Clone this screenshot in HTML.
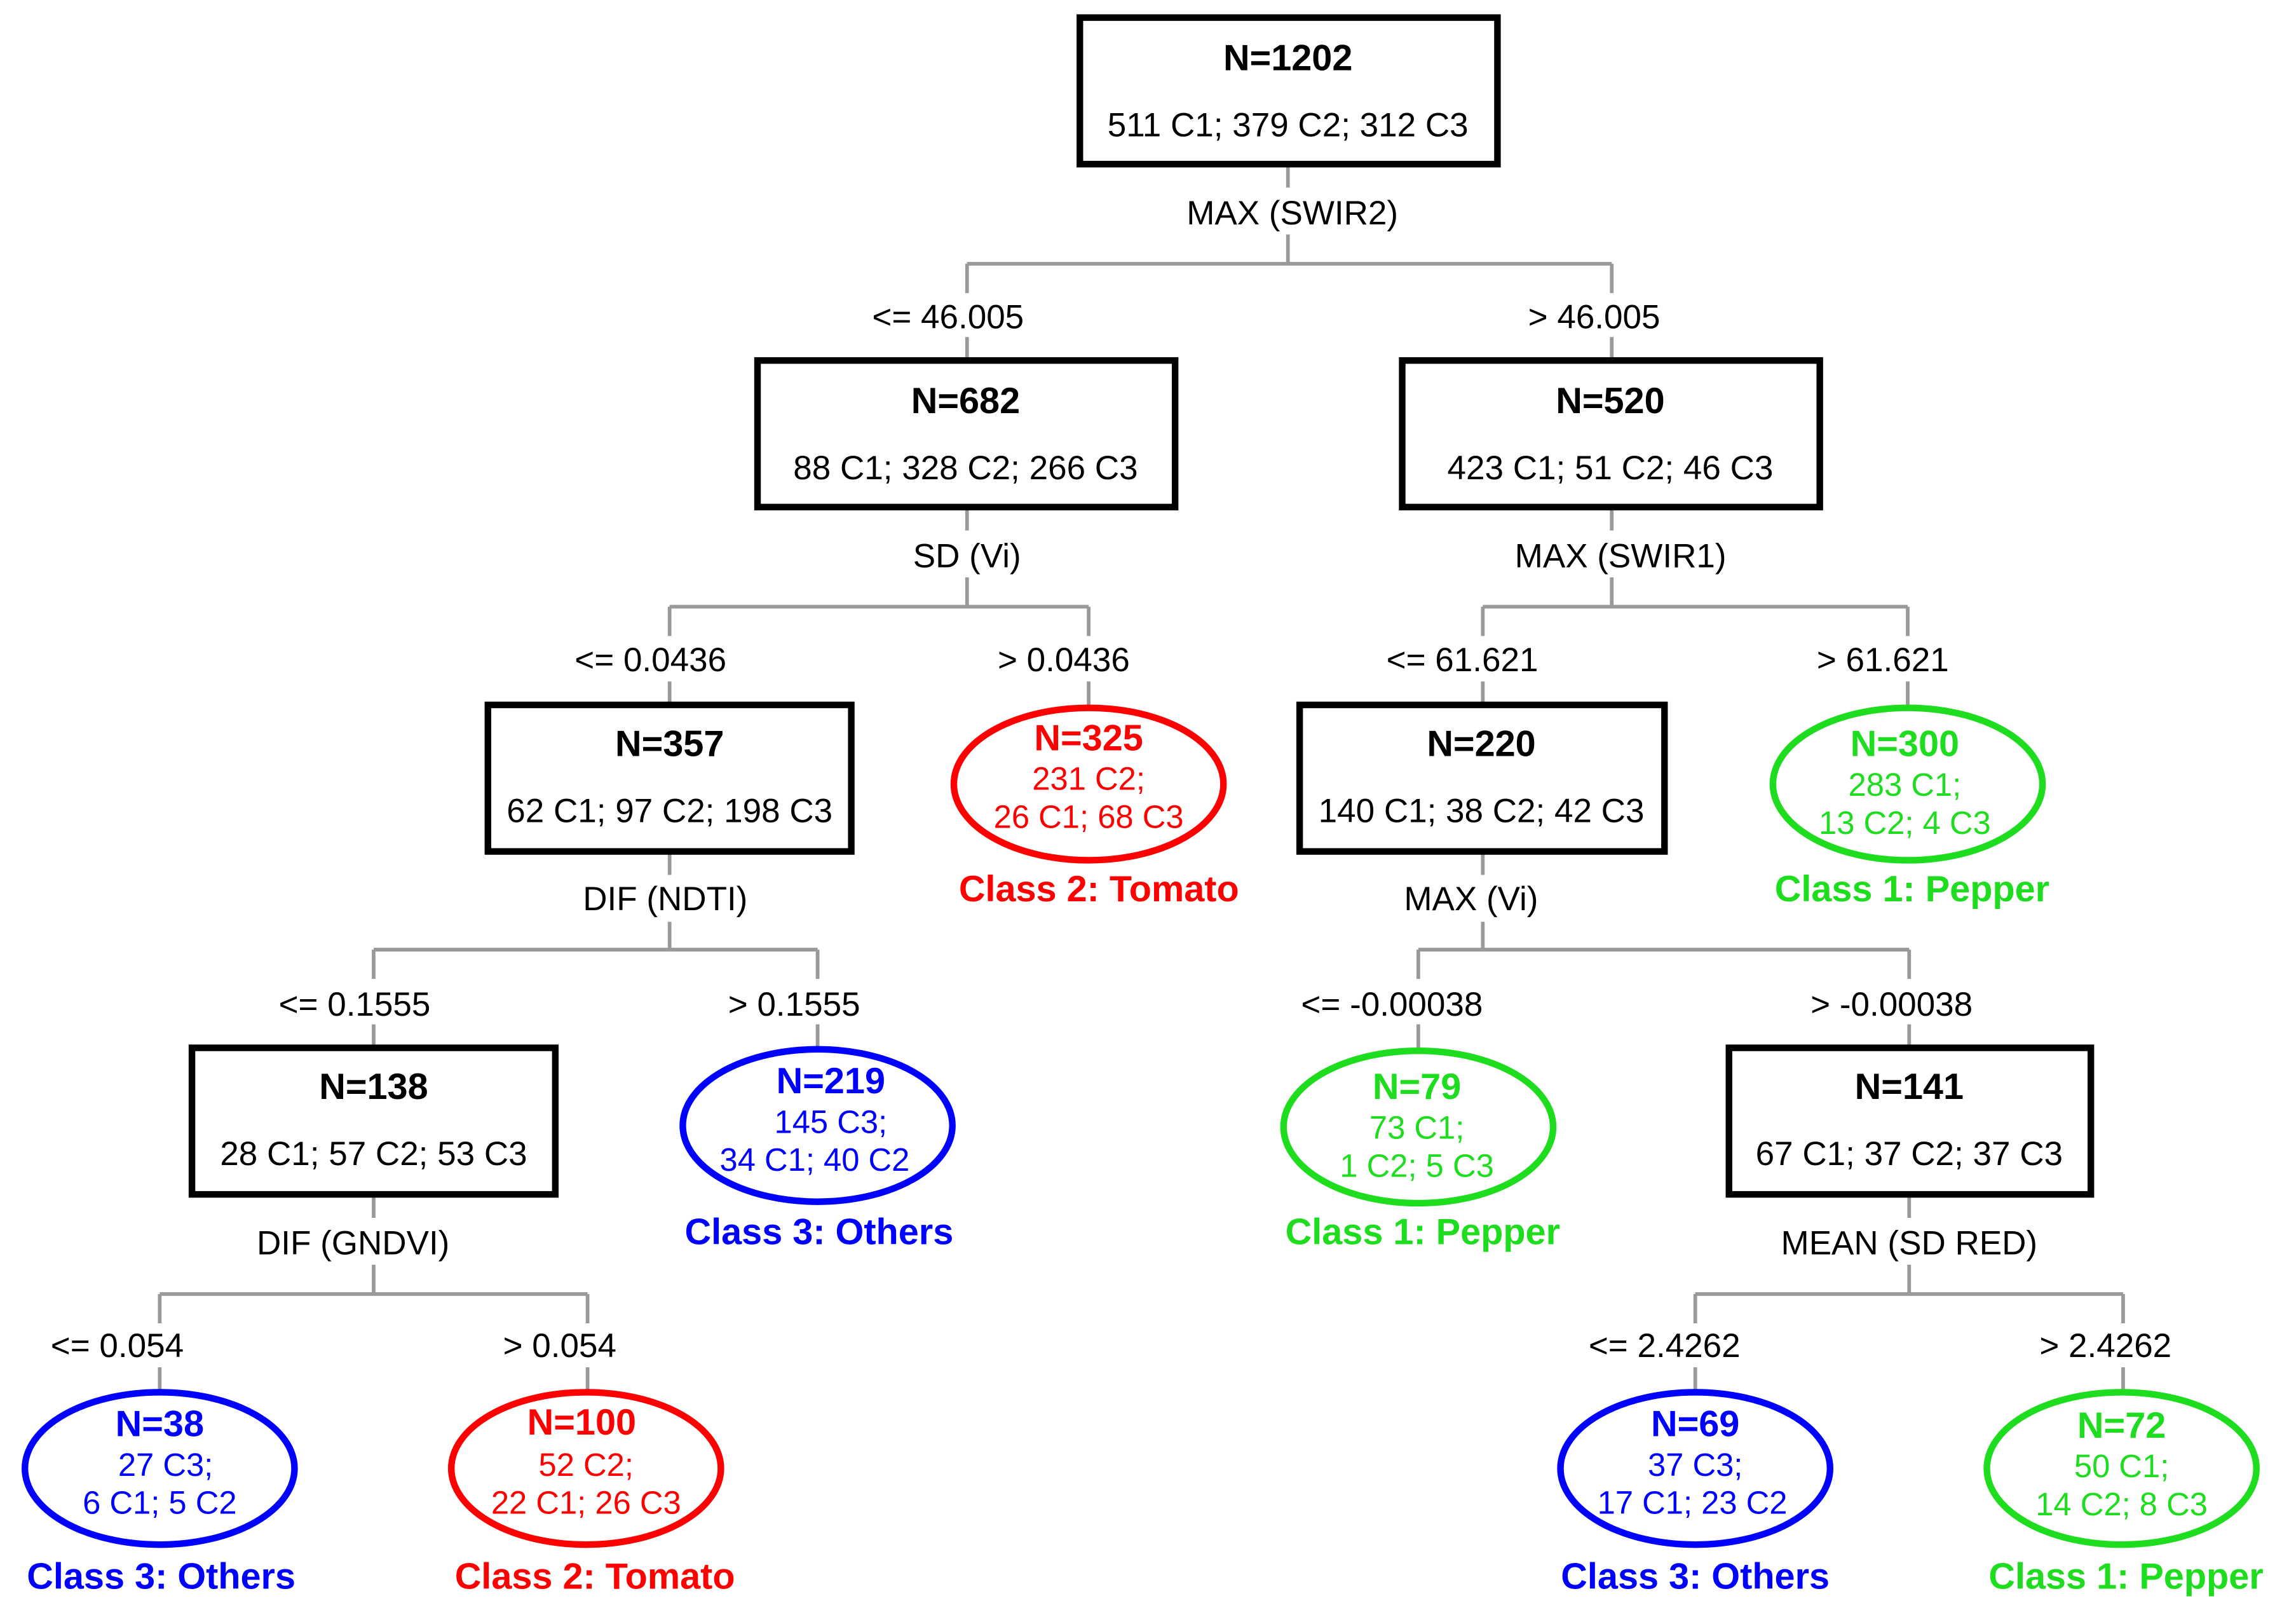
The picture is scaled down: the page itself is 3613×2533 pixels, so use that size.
<!DOCTYPE html>
<html><head><meta charset="utf-8"><style>
html,body{margin:0;padding:0;background:#fff;}
svg{display:block;}
text{font-family:"Liberation Sans",sans-serif;text-anchor:middle;}
.t{font-size:23px;fill:#000;}
.b{font-size:25px;font-weight:bold;}
.e{font-size:22px;}
.c{font-size:25px;font-weight:bold;}
.box{fill:#fff;stroke:#000;stroke-width:4.5;}
.ln{stroke:#999;stroke-width:2.5;fill:none;}
.R{fill:#ff0000;} .G{fill:#1edc1e;} .B{fill:#0000ff;}
.eR{fill:#fff;stroke:#ff0000;stroke-width:4.5;}
.eG{fill:#fff;stroke:#1edc1e;stroke-width:4.5;}
.eB{fill:#fff;stroke:#0000ff;stroke-width:4.5;}
</style></head><body>
<svg width="3613" height="2533" viewBox="0 0 1567 1098.6" preserveAspectRatio="none" xmlns="http://www.w3.org/2000/svg">
<!-- connectors -->
<path class="ln" d="M879 112V128 M879 160V180 M660 180H1100 M660 180V200 M1100 180V200 M660 230V246 M1100 230V246"/>
<path class="ln" d="M660 346V362 M660 394V414 M457 414H743 M457 414V434 M743 414V434 M457 465V481 M743 465V483"/>
<path class="ln" d="M1100 346V362 M1100 394V414 M1012 414H1302 M1012 414V434 M1302 414V434 M1012 465V481 M1302 465V483"/>
<path class="ln" d="M457 581V597 M457 629V648 M255 648H558 M255 648V668 M558 648V668 M255 699V715 M558 699V716"/>
<path class="ln" d="M1012 581V597 M1012 629V648 M968 648H1303 M968 648V668 M1303 648V668 M968 699V716 M1303 699V715"/>
<path class="ln" d="M255 815V831 M255 863V883 M109 883H401 M109 883V903 M401 883V903 M109 933V950 M401 933V950"/>
<path class="ln" d="M1303 815V831 M1303 863V883 M1157 883H1449 M1157 883V903 M1449 883V903 M1157 933V950 M1449 933V950"/>

<!-- connector labels -->
<text class="t" x="882" y="153">MAX (SWIR2)</text>
<text class="t" x="647" y="224">&lt;= 46.005</text>
<text class="t" x="1088" y="224">&gt; 46.005</text>
<text class="t" x="660" y="387">SD (Vi)</text>
<text class="t" x="1106" y="387">MAX (SWIR1)</text>
<text class="t" x="444" y="458">&lt;= 0.0436</text>
<text class="t" x="726" y="458">&gt; 0.0436</text>
<text class="t" x="998" y="458">&lt;= 61.621</text>
<text class="t" x="1285" y="458">&gt; 61.621</text>
<text class="t" x="454" y="621">DIF (NDTI)</text>
<text class="t" x="1004" y="621">MAX (Vi)</text>
<text class="t" x="242" y="693">&lt;= 0.1555</text>
<text class="t" x="542" y="693">&gt; 0.1555</text>
<text class="t" x="950" y="693">&lt;= -0.00038</text>
<text class="t" x="1291" y="693">&gt; -0.00038</text>
<text class="t" x="241" y="856">DIF (GNDVI)</text>
<text class="t" x="1303" y="856">MEAN (SD RED)</text>
<text class="t" x="80" y="926">&lt;= 0.054</text>
<text class="t" x="382" y="926">&gt; 0.054</text>
<text class="t" x="1136" y="926">&lt;= 2.4262</text>
<text class="t" x="1437" y="926">&gt; 2.4262</text>

<!-- boxes -->
<rect class="box" x="737" y="12" width="285" height="100"/>
<text class="b" x="879" y="48">N=1202</text>
<text class="t" x="879" y="93">511 C1; 379 C2; 312 C3</text>

<rect class="box" x="517" y="246" width="285" height="100"/>
<text class="b" x="659" y="282">N=682</text>
<text class="t" x="659" y="327">88 C1; 328 C2; 266 C3</text>

<rect class="box" x="957" y="246" width="285" height="100"/>
<text class="b" x="1099" y="282">N=520</text>
<text class="t" x="1099" y="327">423 C1; 51 C2; 46 C3</text>

<rect class="box" x="333" y="481" width="248" height="100"/>
<text class="b" x="457" y="516">N=357</text>
<text class="t" x="457" y="561">62 C1; 97 C2; 198 C3</text>

<rect class="box" x="887" y="481" width="249" height="100"/>
<text class="b" x="1011" y="516">N=220</text>
<text class="t" x="1011" y="561">140 C1; 38 C2; 42 C3</text>

<rect class="box" x="131" y="715" width="248" height="100"/>
<text class="b" x="255" y="750">N=138</text>
<text class="t" x="255" y="795">28 C1; 57 C2; 53 C3</text>

<rect class="box" x="1180" y="715" width="247" height="100"/>
<text class="b" x="1303" y="750">N=141</text>
<text class="t" x="1303" y="795">67 C1; 37 C2; 37 C3</text>

<!-- leaves -->
<ellipse class="eR" cx="743" cy="535" rx="92" ry="52"/>
<text class="b R" x="743" y="512">N=325</text>
<text class="e R" x="743" y="539">231 C2;</text>
<text class="e R" x="743" y="565">26 C1; 68 C3</text>
<text class="c R" x="750" y="615">Class 2: Tomato</text>

<ellipse class="eG" cx="1302" cy="535" rx="92" ry="52"/>
<text class="b G" x="1300" y="516">N=300</text>
<text class="e G" x="1300" y="543">283 C1;</text>
<text class="e G" x="1300" y="569">13 C2; 4 C3</text>
<text class="c G" x="1305" y="615">Class 1: Pepper</text>

<ellipse class="eB" cx="558" cy="768" rx="92" ry="52"/>
<text class="b B" x="567" y="746">N=219</text>
<text class="e B" x="567" y="773">145 C3;</text>
<text class="e B" x="556" y="799">34 C1; 40 C2</text>
<text class="c B" x="559" y="849">Class 3: Others</text>

<ellipse class="eG" cx="968" cy="769" rx="92" ry="52"/>
<text class="b G" x="967" y="750">N=79</text>
<text class="e G" x="967" y="777">73 C1;</text>
<text class="e G" x="967" y="803">1 C2; 5 C3</text>
<text class="c G" x="971" y="849">Class 1: Pepper</text>

<ellipse class="eB" cx="109" cy="1002" rx="92" ry="52"/>
<text class="b B" x="109" y="980">N=38</text>
<text class="e B" x="113" y="1007">27 C3;</text>
<text class="e B" x="109" y="1033">6 C1; 5 C2</text>
<text class="c B" x="110" y="1084">Class 3: Others</text>

<ellipse class="eR" cx="400" cy="1002" rx="92" ry="52"/>
<text class="b R" x="397" y="979">N=100</text>
<text class="e R" x="400" y="1007">52 C2;</text>
<text class="e R" x="400" y="1033">22 C1; 26 C3</text>
<text class="c R" x="406" y="1084">Class 2: Tomato</text>

<ellipse class="eB" cx="1157" cy="1002" rx="92" ry="52"/>
<text class="b B" x="1157" y="980">N=69</text>
<text class="e B" x="1157" y="1007">37 C3;</text>
<text class="e B" x="1155" y="1033">17 C1; 23 C2</text>
<text class="c B" x="1157" y="1084">Class 3: Others</text>

<ellipse class="eG" cx="1448" cy="1002" rx="92" ry="52"/>
<text class="b G" x="1448" y="981">N=72</text>
<text class="e G" x="1448" y="1008">50 C1;</text>
<text class="e G" x="1448" y="1034">14 C2; 8 C3</text>
<text class="c G" x="1451" y="1084">Class 1: Pepper</text>
</svg>
</body></html>
